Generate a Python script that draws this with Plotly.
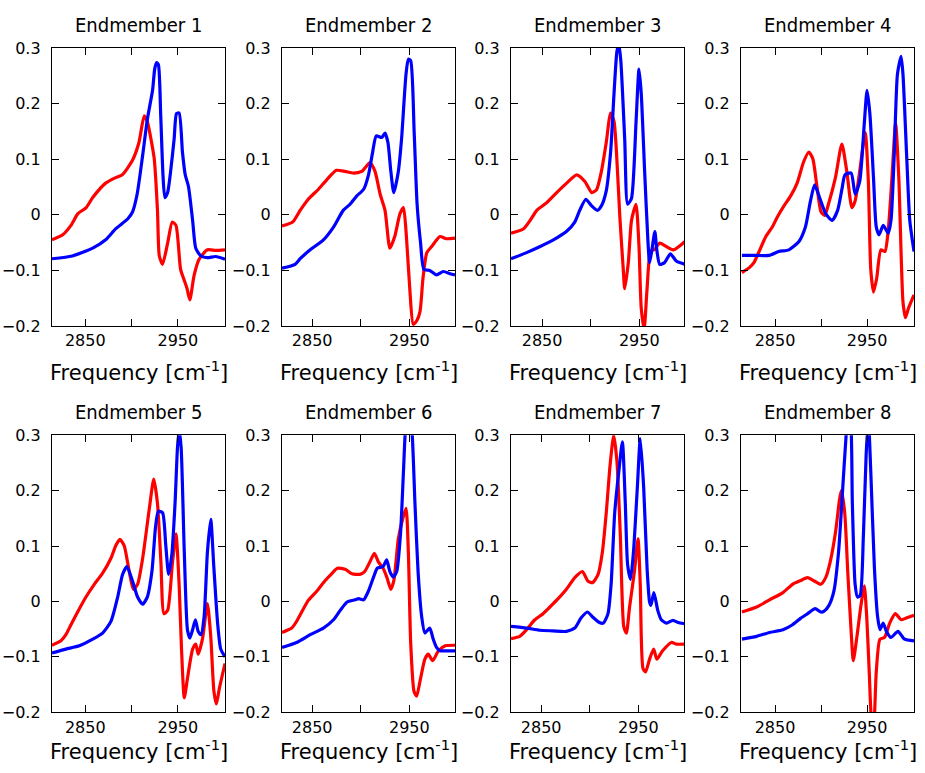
import plotly.graph_objects as go

# ---------------- data ----------------
em1_red_x = [2814, 2825.5, 2834.5, 2842, 2851, 2858, 2872, 2883, 2890, 2901, 2908, 2913.7, 2917, 2921, 2924.5, 2928, 2930, 2933.5, 2939, 2944, 2948, 2953, 2957, 2960, 2963, 2967.6, 2973, 2982, 2991, 3001]
em1_red_y = [-0.045, -0.036, -0.019, 0.002, 0.013, 0.031, 0.057, 0.067, 0.072, 0.098, 0.130, 0.178, 0.168, 0.136, 0.101, 0.008, -0.074, -0.089, -0.051, -0.013, -0.019, -0.098, -0.118, -0.133, -0.153, -0.109, -0.080, -0.063, -0.064, -0.063]
em1_blue_x = [2814, 2836, 2858, 2872, 2883, 2896, 2901, 2906, 2912, 2917, 2922.7, 2925, 2927, 2929, 2931.5, 2934, 2936, 2939, 2942, 2946, 2948.6, 2951.4, 2955, 2958, 2961.5, 2966, 2969.4, 2975, 2982, 2991, 3001]
em1_blue_y = [-0.079, -0.074, -0.060, -0.045, -0.025, -0.007, 0.005, 0.037, 0.107, 0.171, 0.224, 0.262, 0.274, 0.270, 0.180, 0.070, 0.031, 0.040, 0.075, 0.136, 0.182, 0.183, 0.113, 0.072, 0.051, -0.010, -0.060, -0.074, -0.077, -0.075, -0.080]

em2_red_x = [2819, 2830, 2837.7, 2846, 2856.5, 2865, 2875, 2884, 2892.5, 2901, 2909.6, 2914.7, 2920, 2925, 2930, 2935, 2940.4, 2944, 2947, 2950.7, 2954, 2957.5, 2961, 2964, 2968, 2973, 2981.5, 2988, 2997]
em2_red_y = [-0.020, -0.013, 0.008, 0.028, 0.046, 0.063, 0.080, 0.078, 0.075, 0.078, 0.094, 0.078, 0.037, 0.008, -0.060, -0.039, 0.002, 0.013, -0.039, -0.139, -0.197, -0.191, -0.174, -0.115, -0.068, -0.057, -0.039, -0.043, -0.042]
em2_blue_x = [2819, 2832.5, 2837.7, 2848, 2861.6, 2872, 2882, 2889, 2896, 2903, 2908, 2912, 2916, 2921.6, 2925, 2928, 2931, 2934, 2938.7, 2942, 2946.6, 2949, 2951.4, 2955, 2958, 2961.6, 2965, 2971, 2978, 2985, 2992, 2997]
em2_blue_y = [-0.096, -0.089, -0.079, -0.063, -0.045, -0.022, 0.008, 0.019, 0.034, 0.046, 0.072, 0.110, 0.142, 0.139, 0.147, 0.130, 0.078, 0.040, 0.078, 0.136, 0.253, 0.280, 0.277, 0.148, 0.019, -0.051, -0.098, -0.100, -0.108, -0.102, -0.106, -0.108]

em3_red_x = [2818, 2831, 2837.7, 2844.5, 2854.8, 2865, 2875.3, 2885.6, 2894, 2901, 2906, 2911, 2916, 2920.5, 2924, 2926.7, 2930, 2933.5, 2935, 2938.7, 2942, 2946.6, 2949.7, 2952, 2955, 2958, 2961.6, 2966, 2971, 2985, 2997]
em3_red_y = [-0.033, -0.025, -0.010, 0.008, 0.022, 0.040, 0.057, 0.072, 0.060, 0.040, 0.045, 0.078, 0.130, 0.183, 0.168, 0.107, -0.004, -0.098, -0.133, -0.086, -0.010, 0.019, -0.057, -0.168, -0.205, -0.133, -0.066, -0.062, -0.051, -0.063, -0.048]
em3_blue_x = [2818, 2834, 2848, 2861.6, 2875, 2883.6, 2888.7, 2895, 2901, 2906.8, 2911, 2916, 2920.5, 2924, 2927, 2929, 2931, 2935, 2938, 2942, 2946.6, 2949.7, 2952, 2955.5, 2959, 2960.6, 2963, 2966, 2968, 2971, 2976, 2982, 2988, 2997]
em3_blue_y = [-0.079, -0.068, -0.057, -0.045, -0.030, -0.013, 0.008, 0.028, 0.016, 0.008, 0.016, 0.043, 0.113, 0.218, 0.294, 0.306, 0.277, 0.136, 0.019, 0.030, 0.165, 0.262, 0.218, 0.078, -0.051, -0.086, -0.063, -0.030, -0.063, -0.089, -0.086, -0.070, -0.083, -0.089]

em4_red_x = [2814, 2822, 2827, 2832.7, 2840, 2847, 2852.5, 2859.7, 2867, 2874, 2881, 2886.7, 2891, 2895.7, 2900, 2904, 2908, 2915.5, 2922.6, 2928, 2933.5, 2937, 2942, 2948, 2951.4, 2954, 2957, 2960.4, 2965, 2969.4, 2973, 2977, 2981, 2984.5, 2989, 2991.7, 2995, 3001]
em4_red_y = [-0.104, -0.095, -0.086, -0.066, -0.039, -0.022, -0.004, 0.016, 0.034, 0.057, 0.095, 0.113, 0.101, 0.049, 0.005, -0.001, 0.019, 0.066, 0.127, 0.078, 0.013, 0.025, 0.078, 0.148, 0.060, -0.098, -0.139, -0.115, -0.063, -0.066, -0.028, 0.066, 0.165, 0.066, -0.156, -0.185, -0.168, -0.144]
em4_blue_x = [2814, 2829, 2843.5, 2854, 2865, 2876, 2883, 2888.5, 2893, 2899, 2905, 2912, 2918, 2923, 2926, 2932.7, 2937, 2942, 2947, 2950, 2953, 2957, 2960, 2963, 2967.6, 2973, 2976, 2979.5, 2983, 2987, 2989, 2993, 2996.4, 3001]
em4_blue_y = [-0.073, -0.073, -0.073, -0.066, -0.063, -0.048, -0.022, 0.025, 0.054, 0.028, 0.002, -0.010, 0.008, 0.049, 0.072, 0.075, 0.037, 0.060, 0.165, 0.224, 0.183, 0.066, -0.022, -0.036, -0.019, -0.033, -0.010, 0.107, 0.253, 0.285, 0.253, 0.107, -0.010, -0.066]

em5_red_x = [2814, 2823.7, 2829, 2834.5, 2841.7, 2850.7, 2859.7, 2868.7, 2877.7, 2883, 2887.4, 2892, 2897.5, 2902, 2906.5, 2912, 2919, 2924, 2928, 2931.7, 2935, 2939, 2944, 2948, 2951.4, 2954, 2957, 2960.4, 2966, 2969.4, 2972, 2976.6, 2982, 2985.6, 2989, 2991.7, 2995, 3001]
em5_red_y = [-0.079, -0.071, -0.060, -0.042, -0.019, 0.008, 0.031, 0.051, 0.078, 0.101, 0.112, 0.101, 0.054, 0.022, 0.031, 0.078, 0.165, 0.221, 0.177, 0.072, -0.022, -0.016, 0.066, 0.122, 0.031, -0.086, -0.174, -0.139, -0.086, -0.077, -0.095, -0.068, -0.004, -0.063, -0.162, -0.185, -0.156, -0.112]
em5_blue_x = [2814, 2829, 2843.5, 2858, 2868.7, 2877.7, 2885, 2890.3, 2895, 2901, 2906.5, 2912, 2917, 2922, 2926, 2929, 2933.5, 2937, 2940, 2943.5, 2947, 2949.6, 2951.4, 2953.6, 2957, 2960.4, 2963, 2966, 2969, 2972, 2975, 2978.4, 2982, 2985.6, 2989, 2993, 2996.4, 3001]
em5_blue_y = [-0.093, -0.086, -0.080, -0.068, -0.057, -0.036, 0.008, 0.049, 0.063, 0.037, 0.008, -0.005, 0.008, 0.054, 0.136, 0.163, 0.160, 0.101, 0.049, 0.084, 0.177, 0.277, 0.310, 0.277, 0.089, -0.051, -0.066, -0.051, -0.033, -0.054, -0.060, -0.028, 0.089, 0.148, 0.060, -0.039, -0.086, -0.100]

em6_red_x = [2819, 2829, 2834, 2839, 2846, 2855, 2863, 2870, 2876, 2884, 2891, 2899, 2904, 2909.6, 2914, 2918, 2923, 2927, 2931, 2934, 2938.7, 2943, 2946.6, 2949, 2951.4, 2954.8, 2957.5, 2961, 2966, 2969.5, 2974, 2980, 2987, 2997]
em6_red_y = [-0.056, -0.048, -0.036, -0.020, 0.002, 0.019, 0.037, 0.050, 0.060, 0.058, 0.050, 0.049, 0.054, 0.072, 0.087, 0.072, 0.060, 0.043, 0.022, 0.037, 0.113, 0.148, 0.168, 0.089, -0.074, -0.162, -0.171, -0.144, -0.104, -0.095, -0.107, -0.089, -0.080, -0.079]
em6_blue_x = [2819, 2834, 2848, 2861.6, 2872, 2879, 2886, 2894, 2898, 2903, 2908, 2913, 2917, 2923, 2926.7, 2930, 2933.5, 2937, 2941, 2944, 2946, 2949.5, 2953, 2955.8, 2959, 2962.7, 2966, 2971, 2974.6, 2978, 2981.5, 2988.4, 2997]
em6_blue_y = [-0.083, -0.074, -0.060, -0.048, -0.033, -0.016, -0.001, 0.003, 0.005, 0.003, 0.019, 0.043, 0.060, 0.063, 0.075, 0.054, 0.044, 0.054, 0.124, 0.236, 0.310, 0.360, 0.300, 0.177, 0.054, -0.027, -0.057, -0.048, -0.068, -0.083, -0.089, -0.089, -0.089]

em7_red_x = [2819, 2828, 2835, 2843.5, 2852, 2859, 2867.5, 2876, 2884.6, 2892.5, 2898, 2903, 2908.6, 2913, 2917, 2921, 2924.7, 2928, 2931.5, 2935, 2937.7, 2941, 2946, 2949.7, 2952, 2954.8, 2957.5, 2961.6, 2965.8, 2969, 2975, 2984, 2989, 2997]
em7_red_y = [-0.067, -0.063, -0.051, -0.033, -0.022, -0.010, 0.005, 0.022, 0.043, 0.054, 0.037, 0.034, 0.049, 0.089, 0.160, 0.247, 0.300, 0.253, 0.119, -0.045, -0.057, -0.010, 0.054, 0.113, 0.031, -0.121, -0.127, -0.104, -0.086, -0.104, -0.089, -0.074, -0.077, -0.077]
em7_blue_x = [2819, 2835, 2848.6, 2862, 2876, 2884.6, 2891, 2897.6, 2903, 2910, 2914, 2918.8, 2922, 2925.7, 2930, 2933.6, 2936.6, 2939, 2942, 2945, 2949, 2952, 2955.5, 2959, 2961.6, 2963, 2966, 2970, 2973.6, 2979, 2985.6, 2991, 2997]
em7_blue_y = [-0.045, -0.048, -0.052, -0.053, -0.054, -0.048, -0.030, -0.019, -0.028, -0.038, -0.039, -0.022, 0.031, 0.160, 0.236, 0.288, 0.177, 0.066, 0.040, 0.089, 0.206, 0.294, 0.206, 0.060, -0.001, -0.007, 0.016, -0.016, -0.033, -0.039, -0.034, -0.038, -0.040]

em8_red_x = [2814, 2830, 2844, 2858.6, 2869, 2878, 2885.4, 2892.5, 2899.6, 2905, 2910, 2915.7, 2920, 2922, 2925.7, 2929, 2933, 2935, 2939, 2943.6, 2947, 2949.6, 2952.5, 2955, 2957, 2960, 2964, 2969, 2974.6, 2980.7, 2987, 2992.5, 3001]
em8_red_y = [-0.019, -0.010, 0.003, 0.016, 0.031, 0.038, 0.043, 0.037, 0.031, 0.043, 0.072, 0.125, 0.183, 0.200, 0.160, 0.054, -0.063, -0.107, -0.063, -0.004, 0.028, -0.027, -0.133, -0.220, -0.230, -0.127, -0.068, -0.065, -0.039, -0.022, -0.033, -0.030, -0.025]
em8_blue_x = [2814, 2830, 2844, 2858.6, 2869, 2878, 2885.4, 2893.6, 2899.6, 2903, 2908.6, 2914, 2919, 2923.6, 2927, 2929.5, 2932, 2934, 2937, 2939.6, 2942.5, 2946, 2949, 2951.4, 2954, 2958, 2961.4, 2964, 2967.5, 2971, 2976, 2983.6, 2990.7, 3001]
em8_blue_y = [-0.068, -0.063, -0.056, -0.051, -0.042, -0.030, -0.022, -0.013, -0.019, -0.018, -0.007, 0.019, 0.089, 0.206, 0.294, 0.340, 0.330, 0.177, 0.031, 0.008, 0.011, 0.119, 0.265, 0.330, 0.236, 0.060, -0.027, -0.051, -0.039, -0.054, -0.065, -0.054, -0.068, -0.071]

titles = ["Endmember 1", "Endmember 2", "Endmember 3", "Endmember 4",
          "Endmember 5", "Endmember 6", "Endmember 7", "Endmember 8"]
x_title = "Frequency [cm<sup>-1</sup>]"
x_tick_vals = [2850, 2950]
x_minor_vals = [2900]
y_tick_vals = [-0.2, -0.1, 0, 0.1, 0.2, 0.3]
y_tick_text = ["\u22120.2", "\u22120.1", "0", "0.1", "0.2", "0.3"]
x_ranges = [[2814, 3001], [2819, 2997], [2818, 2996], [2813, 3001],
            [2814, 3001], [2819, 2997], [2819, 2997], [2813, 3001]]
y_range = [-0.2, 0.3]

red_series = [(em1_red_x, em1_red_y), (em2_red_x, em2_red_y), (em3_red_x, em3_red_y), (em4_red_x, em4_red_y),
              (em5_red_x, em5_red_y), (em6_red_x, em6_red_y), (em7_red_x, em7_red_y), (em8_red_x, em8_red_y)]
blue_series = [(em1_blue_x, em1_blue_y), (em2_blue_x, em2_blue_y), (em3_blue_x, em3_blue_y), (em4_blue_x, em4_blue_y),
               (em5_blue_x, em5_blue_y), (em6_blue_x, em6_blue_y), (em7_blue_x, em7_blue_y), (em8_blue_x, em8_blue_y)]

# ---------------- layout geometry (pixels) ----------------
W, H = 925, 773
cols_px = [(52, 225), (282, 455), (511, 684), (741, 914)]
rows_px = [(40, 325), (437, 721)]
xtitle_px = [371, 760]

fig = go.Figure()
layout = dict(
    width=W, height=H,
    margin=dict(l=0, r=0, t=0, b=0),
    paper_bgcolor="white", plot_bgcolor="white",
    showlegend=False,
    font=dict(family="DejaVu Sans", size=16, color="black"),
)
annotations = []

for i in range(8):
    r, c = divmod(i, 4)
    n = "" if i == 0 else str(i + 1)
    x0, x1 = cols_px[c]
    y0, y1 = rows_px[r]
    xd = [x0 / W, x1 / W]
    yd = [1 - y1 / H, 1 - y0 / H]
    axis_common = dict(showline=True, mirror="ticks", linecolor="black", linewidth=1.3,
                       ticks="inside", ticklen=7, tickwidth=1.2, tickcolor="black",
                       showgrid=False, zeroline=False,
                       tickfont=dict(family="DejaVu Sans", size=16, color="black"))
    layout["xaxis" + n] = dict(domain=xd, range=x_ranges[i], anchor="y" + n,
                               tickmode="array", tickvals=x_tick_vals,
                               ticktext=[str(v) for v in x_tick_vals],
                               minor=dict(tickmode="array", tickvals=x_minor_vals, ticks="inside",
                                          ticklen=7, tickwidth=1.2, tickcolor="black", showgrid=False),
                               ticklabelstandoff=0, **axis_common)
    layout["yaxis" + n] = dict(domain=yd, range=y_range, anchor="x" + n,
                               tickmode="array", tickvals=y_tick_vals, ticktext=y_tick_text,
                               ticklabelstandoff=7, **axis_common)
    rx, ry = red_series[i]
    bx, by = blue_series[i]
    fig.add_trace(go.Scatter(x=rx, y=ry, mode="lines", xaxis="x" + n, yaxis="y" + n,
                             line=dict(color="#ff0000", width=3.2, shape="spline", smoothing=0.6)))
    fig.add_trace(go.Scatter(x=bx, y=by, mode="lines", xaxis="x" + n, yaxis="y" + n,
                             line=dict(color="#0000ff", width=3.2, shape="spline", smoothing=0.6)))
    cx = (x0 + x1) / 2 / W
    annotations.append(dict(text=titles[i], x=cx, y=1 - (y0 - 23.5) / H, xref="paper", yref="paper",
                            xanchor="center", yanchor="middle", showarrow=False,
                            font=dict(family="DejaVu Sans Condensed, Liberation Sans Narrow, Liberation Sans",
                                      size=20, color="black")))
    annotations.append(dict(text=x_title, x=cx, y=1 - xtitle_px[r] / H, xref="paper", yref="paper",
                            xanchor="center", yanchor="middle", showarrow=False,
                            font=dict(family="DejaVu Sans", size=21, color="black")))

layout["annotations"] = annotations
fig.update_layout(**layout)
fig.write_html("out.html")
